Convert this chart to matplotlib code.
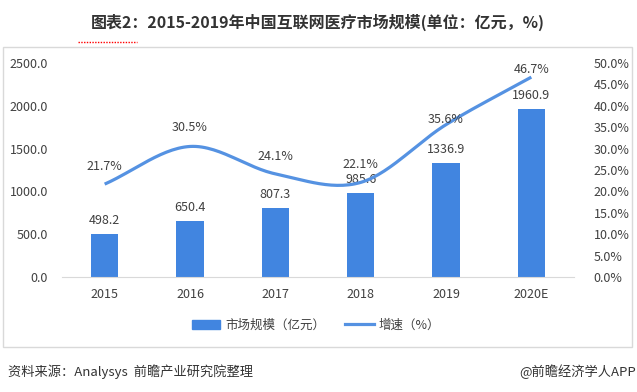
import matplotlib.pyplot as plt
import numpy as np
from matplotlib.patches import Rectangle
from matplotlib.lines import Line2D

plt.rcParams['font.family'] = ['Noto Sans CJK SC', 'DejaVu Sans']

years = ['2015', '2016', '2017', '2018', '2019', '2020E']
market = [498.2, 650.4, 807.3, 985.6, 1336.9, 1960.9]
growth = [21.7, 30.5, 24.1, 22.1, 35.6, 46.7]
# vertical offset (points) for the growth labels
growth_off = [8, 9, 8, 8, -1, 1]

bar_color = '#4185e0'
line_color = '#5592e2'
text_color = '#404040'


def catmull_rom(x, y, n=30):
    x = np.asarray(x, float)
    y = np.asarray(y, float)
    px = np.concatenate([[2 * x[0] - x[1]], x, [2 * x[-1] - x[-2]]])
    py = np.concatenate([[2 * y[0] - y[1]], y, [2 * y[-1] - y[-2]]])
    xs, ys = [], []
    t = np.linspace(0, 1, n)
    for i in range(1, len(px) - 2):
        p0, p1, p2, p3 = (np.array([px[j], py[j]]) for j in range(i - 1, i + 3))
        c1 = p1 + (p2 - p0) / 6
        c2 = p2 - (p3 - p1) / 6
        pts = ((1 - t) ** 3)[:, None] * p1 + (3 * (1 - t) ** 2 * t)[:, None] * c1 \
            + (3 * (1 - t) * t ** 2)[:, None] * c2 + (t ** 3)[:, None] * p2
        xs.extend(pts[:, 0])
        ys.extend(pts[:, 1])
    return np.array(xs), np.array(ys)


fig = plt.figure(figsize=(6.37, 3.92), dpi=100)

# outer chart border
fig.patches.append(Rectangle((3 / 637, 1 - 347 / 392), 629 / 637, 300 / 392,
                             transform=fig.transFigure, fill=False,
                             edgecolor='#d9d9d9', linewidth=1))

ax = fig.add_axes([62 / 637, 1 - 277 / 392, 512 / 637, 214 / 392])
x = np.arange(len(years))
ax.bar(x, market, width=0.32, color=bar_color, zorder=2)
for xi, v in zip(x, market):
    ax.annotate(f'{v:.1f}', (xi, v), xytext=(0, 5), textcoords='offset points',
                ha='center', va='bottom', fontsize=9, color=text_color)

ax.set_xlim(-0.5, len(years) - 0.5)
ax.set_ylim(0, 2500)
ax.set_yticks(np.arange(0, 2501, 500))
ax.set_yticklabels([f'{v:.1f}' for v in np.arange(0, 2501, 500)])
ax.set_xticks(x)
ax.set_xticklabels(years)
for s in ['top', 'right', 'left']:
    ax.spines[s].set_visible(False)
ax.spines['bottom'].set_color('#d9d9d9')
ax.tick_params(axis='both', length=0, labelsize=9, colors=text_color)
ax.tick_params(axis='y', pad=10)
ax.tick_params(axis='x', pad=8)

ax2 = ax.twinx()
ax2.set_ylim(0, 50)
ax2.set_yticks(np.arange(0, 51, 5))
ax2.set_yticklabels([f'{v:.1f}%' for v in np.arange(0, 51, 5)])
for s in ax2.spines.values():
    s.set_visible(False)
ax2.tick_params(axis='y', length=0, labelsize=9, colors=text_color, pad=14)
sx, sy = catmull_rom(x, growth)
ax2.plot(sx, sy, color=line_color, linewidth=2.3, solid_capstyle='butt', zorder=3)
for xi, v, off in zip(x, growth, growth_off):
    ax2.annotate(f'{v:.1f}%', (xi, v), xytext=(0, off), textcoords='offset points',
                 ha='center', va='bottom', fontsize=9, color=text_color)

# legend
handles = [Rectangle((0, 0), 1, 1, color=bar_color),
           Line2D([0], [0], color=line_color, linewidth=2.3)]
fig.legend(handles, ['市场规模（亿元）', '增速（%）'], loc='center',
           bbox_to_anchor=(316 / 637, 1 - 325 / 392), ncol=2, frameon=False,
           fontsize=9, handlelength=2.3, handleheight=0.7, handletextpad=0.4,
           columnspacing=1.6, labelcolor=text_color)

# title
fig.text(318 / 637, 1 - 22 / 392, '图表2：2015-2019年中国互联网医疗市场规模(单位：亿元，%)',
         ha='center', va='center', fontsize=11.5, fontweight='bold', color='#333333')
fig.lines.append(Line2D([78 / 637, 137 / 637], [1 - 42 / 392, 1 - 42 / 392],
                        transform=fig.transFigure, color='red', linewidth=1,
                        linestyle=(0, (1, 1))))

# footer
fig.text(8 / 637, 1 - 372 / 392, '资料来源：Analysys  前瞻产业研究院整理',
         ha='left', va='center', fontsize=9.5, color='#333333')
fig.text(636 / 637, 1 - 372 / 392, '@前瞻经济学人APP',
         ha='right', va='center', fontsize=9.5, color='#333333')

fig.savefig('out.png', dpi=100)
